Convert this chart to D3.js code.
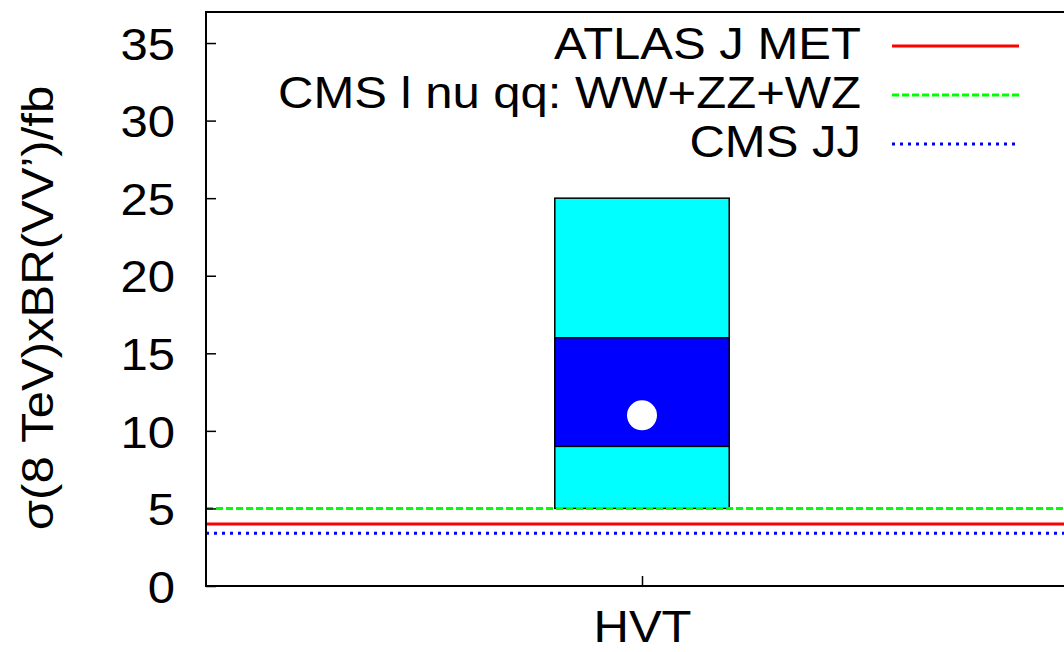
<!DOCTYPE html>
<html>
<head>
<meta charset="utf-8">
<script src="https://cdn.jsdelivr.net/npm/d3@7"></script>
<style>
  body { margin: 0; background: #fff; }
  svg { display: block; }
  text { font-family: "Liberation Sans", Arial, sans-serif; fill: #000; }
</style>
</head>
<body>
<svg width="1064" height="652"></svg>
<script>
// category on the x axis
var categories = ["HVT"];
// predicted band: outer (light) and inner (dark), central value
var outerLow = [5], outerHigh = [25];
var innerLow = [9], innerHigh = [16];
var central = [11];
// experimental limits
var limitNames = ["ATLAS J MET", "CMS l nu qq: WW+ZZ+WZ", "CMS JJ"];
var limitValues = [4.0, 5.0, 3.4];
var limitColors = ["#ff0000", "#00ff00", "#0000ff"];
var limitDash = [null, "7,3", "3,5"];
var yTicks = [0, 5, 10, 15, 20, 25, 30, 35];

var svg = d3.select("svg"),
    margin = {top: 12, left: 206, bottom: 66},
    height = +svg.attr("height") - margin.top - margin.bottom;

var fs = 45, stretch = 1.09;

var x = d3.scaleLinear().domain([0, 2]).range([margin.left, margin.left + 872]);
var y = d3.scaleLinear().domain([0, 37]).range([margin.top + height, margin.top]);
var half = 0.2;

// bands
categories.forEach(function(c, i) {
  var cx = i + 1;
  svg.append("rect")
    .attr("x", x(cx - half)).attr("y", y(outerHigh[i]))
    .attr("width", x(cx + half) - x(cx - half))
    .attr("height", y(outerLow[i]) - y(outerHigh[i]))
    .attr("fill", "#00ffff").attr("stroke", "#000").attr("stroke-width", 1.5);
  svg.append("rect")
    .attr("x", x(cx - half)).attr("y", y(innerHigh[i]))
    .attr("width", x(cx + half) - x(cx - half))
    .attr("height", y(innerLow[i]) - y(innerHigh[i]))
    .attr("fill", "#0000ff").attr("stroke", "#000").attr("stroke-width", 1.5);
  svg.append("circle")
    .attr("cx", x(cx)).attr("cy", y(central[i])).attr("r", 15)
    .attr("fill", "#fff");
});

// limit lines
limitValues.forEach(function(v, i) {
  svg.append("line")
    .attr("x1", x(0)).attr("x2", x(2))
    .attr("y1", y(v)).attr("y2", y(v))
    .attr("stroke", limitColors[i]).attr("stroke-width", 3)
    .attr("stroke-dasharray", limitDash[i]);
});

// y axis
var yAxis = svg.append("g")
  .attr("transform", "translate(" + margin.left + ",0)")
  .call(d3.axisLeft(y).tickValues(yTicks).tickSize(-10).tickPadding(31));
yAxis.select(".domain").remove();
yAxis.selectAll("line").attr("stroke", "#000").attr("stroke-width", 1.5);
yAxis.selectAll("text").style("font-size", fs + "px")
  .attr("x", -31 / stretch).attr("dy", "0.36em")
  .attr("transform", "scale(" + stretch + ",1)");

// x axis
var xAxis = svg.append("g")
  .attr("transform", "translate(0," + y(0) + ")")
  .call(d3.axisBottom(x).tickValues([1]).tickFormat(function(d) { return categories[d - 1]; })
    .tickSize(-10));
xAxis.select(".domain").remove();
xAxis.selectAll("line").attr("stroke", "#000").attr("stroke-width", 1.5);
xAxis.selectAll("text").style("font-size", fs + "px")
  .attr("y", 56).attr("dy", null)
  .attr("transform", "scale(" + stretch + ",1)");

// frame
svg.append("path")
  .attr("d", "M" + x(2) + "," + y(37) + "H" + margin.left + "V" + y(0) + "H" + x(2))
  .attr("fill", "none").attr("stroke", "#000").attr("stroke-width", 2);

// legend
var legendY = [46, 95, 144];
limitNames.forEach(function(n, i) {
  svg.append("text")
    .attr("transform", "translate(861," + (legendY[i] + 13) + ") scale(" + stretch + ",1)")
    .attr("text-anchor", "end").style("font-size", fs + "px")
    .text(n);
  svg.append("line")
    .attr("x1", 892).attr("x2", 1019)
    .attr("y1", legendY[i]).attr("y2", legendY[i])
    .attr("stroke", limitColors[i]).attr("stroke-width", 3)
    .attr("stroke-dasharray", limitDash[i]);
});

// y label
svg.append("text")
  .attr("transform", "translate(53,308) rotate(-90) scale(" + stretch + ",1)")
  .attr("text-anchor", "middle")
  .style("font-size", fs + "px")
  .text("σ(8 TeV)xBR(VV’)/fb");
</script>
</body>
</html>
